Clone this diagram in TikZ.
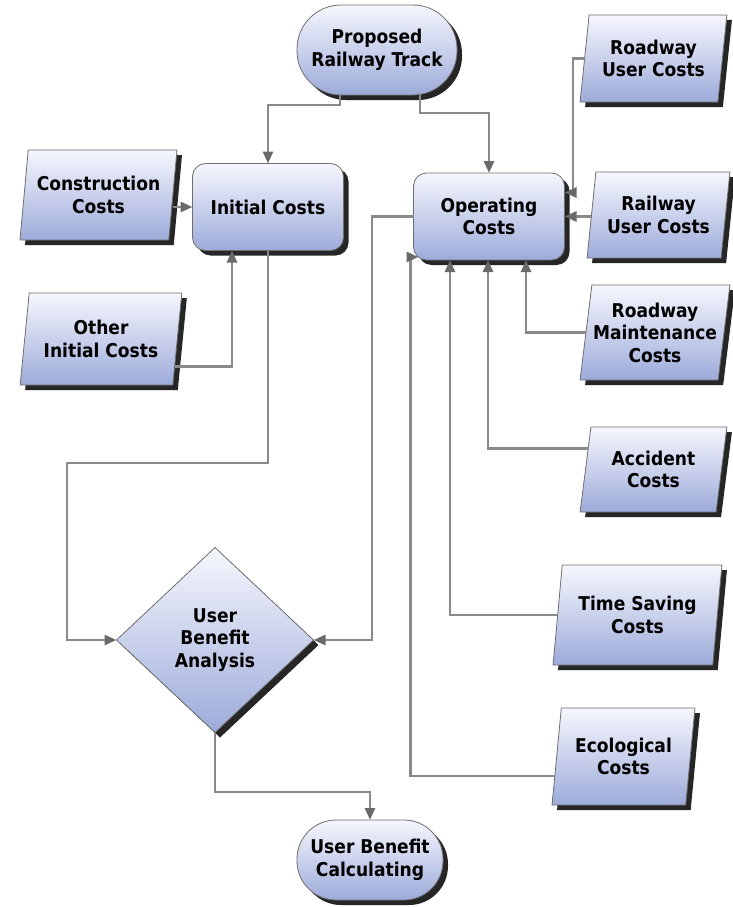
\documentclass[tikz,border=0pt]{standalone}
\usepackage{fontspec}
\newfontfamily\lblfont{DejaVu Sans Condensed Bold}
\usetikzlibrary{shapes.geometric,shadows,arrows.meta,calc}
\definecolor{fillTop}{HTML}{F6F7FD}
\definecolor{fillBot}{HTML}{9DABDA}
\definecolor{edgecol}{HTML}{6E6E6E}
\definecolor{conncol}{HTML}{8A8A8A}
\definecolor{tipcol}{HTML}{6A6A6A}
\begin{document}
\begin{tikzpicture}[x=1pt,y=-1pt,
  box/.style={draw=edgecol, line width=0.8pt, top color=fillTop, bottom color=fillBot,
    font=\lblfont\fontsize{19}{22.5}\selectfont, align=center, text=black,
    inner sep=0pt, outer sep=0pt,
    drop shadow={shadow xshift=5pt, shadow yshift=-5pt, fill=black, opacity=0.85}},
  term/.style={box, rectangle},
  proc/.style={box, rectangle, rounded corners=13pt, minimum width=151pt, minimum height=87pt},
  data/.style={box, trapezium, trapezium left angle=79, trapezium right angle=101, trapezium stretches=true},
  dec/.style={box, diamond, minimum width=197pt, minimum height=185pt},
  conn/.style={draw=conncol, line width=2.7pt, -{Triangle[length=12pt,width=10pt,color=tipcol]}}]
\useasboundingbox (0,0) rectangle (732,907);

% nodes
\node[term, rounded corners=44pt, minimum width=160pt, minimum height=90pt] (prop) at (377,50) {Proposed\\Railway Track};
\node[proc] (init) at (268,207) {Initial Costs};
\node[proc] (op) at (489,216.5) {Operating\\Costs};
\node[data, minimum width=157pt, minimum height=90pt] (cons) at (98.5,195) {Construction\\Costs};
\node[data, minimum width=162pt, minimum height=92pt] (oth) at (101,339) {Other\\Initial Costs};
\node[data, minimum width=147pt, minimum height=87pt] (rwu) at (653.5,58.5) {Roadway\\User Costs};
\node[data, minimum width=143pt, minimum height=86pt] (rlu) at (658.5,215) {Railway\\User Costs};
\node[data, minimum width=150pt, minimum height=95pt] (rm) at (655,332.5) {Roadway\\Maintenance\\Costs};
\node[data, minimum width=147pt, minimum height=85pt] (acc) at (653.5,469.5) {Accident\\Costs};
\node[data, minimum width=169pt, minimum height=100pt] (ts) at (637.5,615) {Time Saving\\Costs};
\node[data, minimum width=143pt, minimum height=97pt] (eco) at (623.5,756.5) {Ecological\\Costs};
\node[dec] (ub) at (215,640) {User\\Benefit\\Analysis};
\node[term, rounded corners=39pt, minimum width=146pt, minimum height=80pt] (calc) at (370,860) {User Benefit\\Calculating};

% bend points
\coordinate (b1) at (67,463);
\coordinate (b2) at (372,400);
\coordinate (b3) at (0,792);
\coordinate (b4) at (573,0);
\coordinate (opR1) at ([yshift=24pt]op.east);

% connectors
\draw[conn] ([xshift=-37pt]prop.south) -- ++(0,10) -| (init.north);
\draw[conn] ([xshift=43pt]prop.south) -- ++(0,18) -| (op.north);
\draw[conn] (init.west -| cons.east) -- (init.west);
\draw[conn] ($(oth.bottom right corner)!0.2!(oth.top right corner)$) -| ([xshift=-36pt]init.south);
\draw[conn] (init.south) |- (b1) |- (ub.west);
\draw[conn] (op.west) -| (b2) |- (ub.east);
\draw[conn] (ub.south) -- (ub.south |- b3) -| (calc.north);
\draw[conn] (rwu.west) -- (rwu.west -| b4) -- (b4 |- opR1) -- (opR1);
\draw[conn] (op.east -| rlu.west) -- (op.east);
\draw[conn] (rm.west) -| ([xshift=37pt]op.south);
\draw[conn] ($(acc.bottom left corner)!0.75!(acc.top left corner)$) -| ([xshift=-1pt]op.south);
\draw[conn] (ts.west) -| ([xshift=-39pt]op.south);
\draw[conn] ($(eco.bottom left corner)!0.3!(eco.top left corner)$) -| ([xshift=-3pt,yshift=3pt]op.south west) -- ([xshift=5pt,yshift=3pt]op.south west);
\end{tikzpicture}
\end{document}
